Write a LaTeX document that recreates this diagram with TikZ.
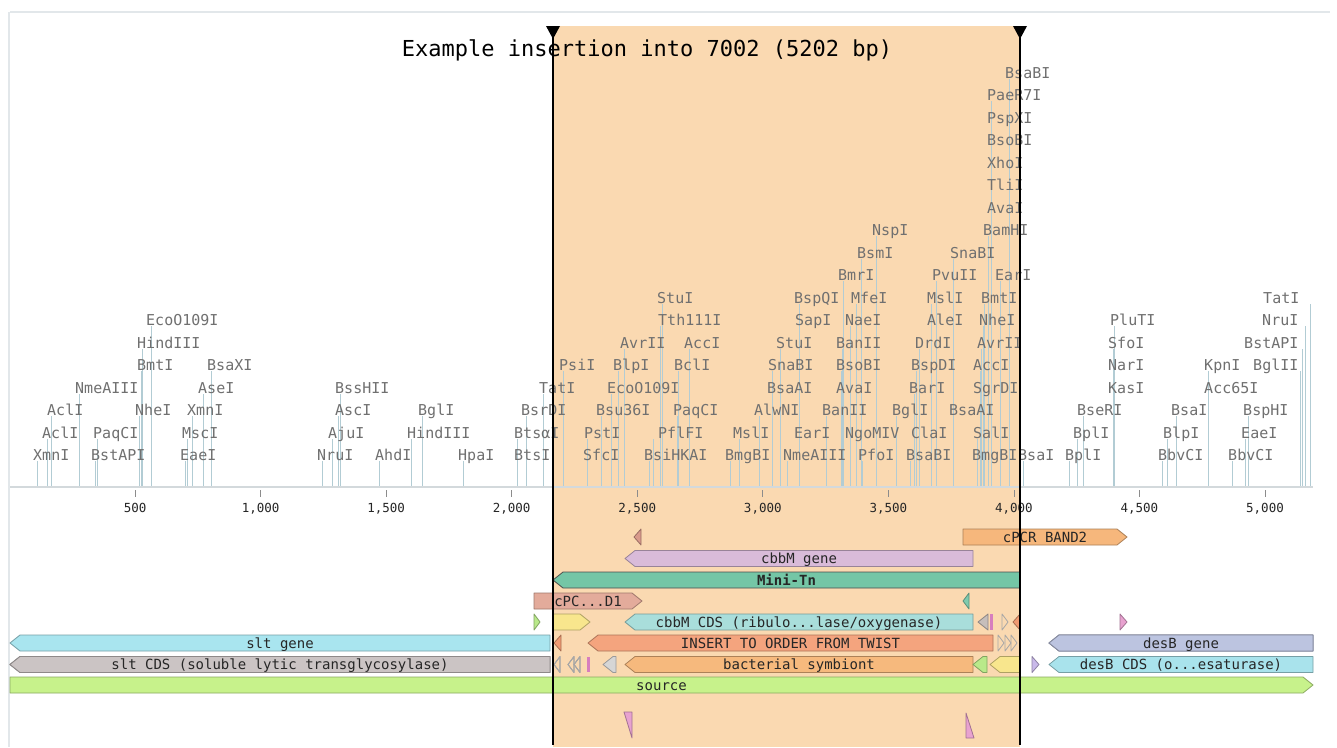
\documentclass[tikz,border=0pt]{standalone}
\usepackage{fontspec}
\setmonofont{DejaVu Sans Mono}

\definecolor{hilite}{HTML}{FAD9B1}
\definecolor{enzgray}{HTML}{707070}
\definecolor{cutline}{HTML}{B2CCD4}
\definecolor{axisgray}{HTML}{D3D9DC}
\definecolor{framegray}{HTML}{E2E7EA}
\definecolor{pcrorange}{HTML}{F6B77C}
\definecolor{lilac}{HTML}{D9BBD9}
\definecolor{minitn}{HTML}{74C6A6}
\definecolor{salmonlt}{HTML}{E3AB9B}
\definecolor{salmondk}{HTML}{D99A8C}
\definecolor{tealf}{HTML}{7FCBAE}
\definecolor{greenf}{HTML}{B9E98A}
\definecolor{yellowf}{HTML}{F8E68D}
\definecolor{cbbmcyan}{HTML}{A9DEDB}
\definecolor{graytri}{HTML}{C6BEBB}
\definecolor{pinkbar}{HTML}{D77EBE}
\definecolor{salmonor}{HTML}{F09A72}
\definecolor{pinkf}{HTML}{E8A2D0}
\definecolor{sltcyan}{HTML}{A9E5EF}
\definecolor{insertor}{HTML}{F4A47E}
\definecolor{desblilac}{HTML}{BCC4E0}
\definecolor{sltgray}{HTML}{CBC4C4}
\definecolor{lightgr}{HTML}{D6D6D6}
\definecolor{symbor}{HTML}{F6B97D}
\definecolor{lilacf}{HTML}{C9B9EA}
\definecolor{desbcyan}{HTML}{A9E3EC}
\definecolor{sourcegreen}{HTML}{C7F28B}

\tikzset{
  enz/.style={font=\fontsize{15}{17}\selectfont\ttfamily, text=enzgray, anchor=base west, inner sep=0pt},
  cut/.style={draw=cutline, line width=0.9pt},
  feat/.style={line width=0.8pt, line join=round},
  featlbl/.style={font=\fontsize{14}{16}\selectfont\ttfamily, text=black!85, anchor=base, inner sep=0pt},
  ticklbl/.style={font=\fontsize{12.5}{14}\selectfont\ttfamily, text=black!85, anchor=base, inner sep=0pt},
  titlelbl/.style={font=\fontsize{22}{24}\selectfont\ttfamily, text=black, anchor=base, inner sep=0pt},
  insline/.style={line width=2pt, draw=black},
}

% feature shapes: [style] x1, x2, y, colour
\newcommand{\arrowleft}[5][]{%
  \filldraw[feat, fill=#5, draw=#5!70!black, #1] (#2,#4) -- ({#2+min(10,#3-#2)},{#4-8})
    -- (#3,{#4-8}) -- (#3,{#4+8}) -- ({#2+min(10,#3-#2)},{#4+8}) -- cycle;}
\newcommand{\arrowright}[5][]{%
  \filldraw[feat, fill=#5, draw=#5!70!black, #1] (#2,{#4-8}) -- ({#3-min(10,#3-#2)},{#4-8})
    -- (#3,#4) -- ({#3-min(10,#3-#2)},{#4+8}) -- (#2,{#4+8}) -- cycle;}
% labelled features: [style] name, x1, x2, y, colour, label
\newcommand{\featleft}[7][]{%
  \arrowleft[#1]{#3}{#4}{#5}{#6}
  \node[featlbl] (#2) at ({(#3+#4)/2},{#5+5}) {#7};}
\newcommand{\featright}[7][]{%
  \arrowright[#1]{#3}{#4}{#5}{#6}
  \node[featlbl] (#2) at ({(#3+#4)/2},{#5+5}) {#7};}

\begin{document}
\begin{tikzpicture}[x=1pt, y=-1pt]
  \useasboundingbox (0,0) rectangle (1337,747);
  \fill[white] (0,0) rectangle (1337,747);
  % Insertion region
  \fill[hilite] (553,26) rectangle (1020,747);
  % Panel frame
  \draw[framegray, line width=1.2pt] (10,12) -- (1330,12);
  \draw[framegray, line width=2pt] (9,12) -- (9,747);

  % Cut sites
  \foreach \x/\r in {37/0, 47/1, 51/2, 79/3, 95/0, 97/1, 139/2, 141/4, 142/5, 151/6,
      185/0, 187/1, 192/2, 203/3, 211/4, 322/0, 332/1, 338/2, 340/3, 379/0, 411/1,
      422/2, 463/0, 517/1, 526/2, 543/3, 563/4, 587/1, 601/2, 611/3, 618/4, 624/5,
      649/0, 653/1, 660/6, 662/7, 677/2, 678/4, 689/5, 730/0, 739/1, 759/2, 772/4,
      780/5, 787/0, 799/7, 826/2, 841/4, 842/5, 843/8, 850/6, 856/7, 861/9, 862/0,
      876/10, 896/2, 910/0, 914/3, 916/4, 919/5, 931/7, 936/8, 953/9, 977/1, 980/4,
      981/5, 983/6, 984/7, 988/10, 991/16, 1000/8, 1009/17, 1023/0, 1069/0, 1077/1,
      1083/2, 1113/5, 1114/6, 1162/0, 1167/1, 1176/2, 1208/4, 1232/0, 1245/1,
      1248/2, 1300/4, 1302/5, 1305/6, 1310/7}
    \draw[cut] (\x,487) -- (\x,{461-22.5*\r});

  % Enzyme names
  \foreach \l/\r/\lab [count=\i] in {33/0/XmnI, 42/1/AclI, 47/2/AclI, 75/3/NmeAIII,
      93/1/PaqCI, 91/0/BstAPI, 135/2/NheI, 137/4/BmtI, 137/5/HindIII, 146/6/EcoO109I,
      180/0/EaeI, 182/1/MscI, 187/2/XmnI, 198/3/AseI, 207/4/BsaXI, 317/0/NruI,
      328/1/AjuI, 335/2/AscI, 335/3/BssHII, 375/0/AhdI, 407/1/HindIII, 418/2/BglI,
      458/0/HpaI, 514/0/BtsI, 514/1/BtsαI, 521/2/BsrDI, 539/3/TatI, 559/4/PsiI,
      583/0/SfcI, 584/1/PstI, 596/2/Bsu36I, 607/3/EcoO109I, 613/4/BlpI, 620/5/AvrII,
      644/0/BsiHKAI, 658/1/PflFI, 673/2/PaqCI, 674/4/BclI, 684/5/AccI, 658/6/Tth111I,
      657/7/StuI, 725/0/BmgBI, 733/1/MslI, 754/2/AlwNI, 767/3/BsaAI, 768/4/SnaBI,
      776/5/StuI, 783/0/NmeAIII, 794/1/EarI, 795/6/SapI, 794/7/BspQI, 822/2/BanII,
      836/3/AvaI, 836/4/BsoBI, 836/5/BanII, 845/6/NaeI, 845/1/NgoMIV, 851/7/MfeI,
      838/8/BmrI, 857/9/BsmI, 872/10/NspI, 858/0/PfoI, 892/2/BglI, 906/0/BsaBI,
      911/1/ClaI, 909/3/BarI, 911/4/BspDI, 915/5/DrdI, 927/6/AleI, 927/7/MslI,
      932/8/PvuII, 950/9/SnaBI, 949/2/BsaAI, 972/0/BmgBI, 973/1/SalI, 973/3/SgrDI,
      973/4/AccI, 977/5/AvrII, 979/6/NheI, 981/7/BmtI, 995/8/EarI, 983/10/BamHI,
      987/11/AvaI, 987/12/TliI, 987/13/XhoI, 987/14/BsoBI, 987/15/PspXI,
      987/16/PaeR7I, 1005/17/BsaBI, 1018/0/BsaI, 1065/0/BplI, 1073/1/BplI,
      1077/2/BseRI, 1108/3/KasI, 1108/4/NarI, 1108/5/SfoI, 1110/6/PluTI,
      1158/0/BbvCI, 1163/1/BlpI, 1171/2/BsaI, 1204/3/Acc65I, 1204/4/KpnI,
      1228/0/BbvCI, 1241/1/EaeI, 1243/2/BspHI, 1253/4/BglII, 1244/5/BstAPI,
      1262/6/NruI, 1263/7/TatI}
    \node[enz] (enz\i) at (\l,{460.5-22.5*\r}) {\lab};

  % Ruler
  \draw[axisgray, line width=2pt] (10,487) -- (1313,487);
  \foreach \bp/\lab [count=\i] in {500/500, 1000/{1,000}, 1500/{1,500}, 2000/{2,000},
      2500/{2,500}, 3000/{3,000}, 3500/{3,500}, 4000/{4,000}, 4500/{4,500}, 5000/{5,000}} {
    \draw[black!45, line width=0.8pt] ({9.5+0.2511*\bp},490) -- ({9.5+0.2511*\bp},497);
    \node[ticklbl] (tick\i) at ({9.5+0.2511*\bp},512) {\lab};
  }

  % Features, row by row
  \arrowleft{634}{641}{537}{salmondk}
  \featright{pcrband}{963}{1127}{537}{pcrorange}{cPCR BAND2}
  \featleft{cbbmgene}{625}{973}{558.5}{lilac}{cbbM gene}
  \featleft[draw=black!70]{minitn}{553}{1020}{580}{minitn}{\textbf{Mini-Tn}}
  \featright{cpcd}{534}{642}{601}{salmonlt}{cPC...D1}
  \arrowleft{963}{969}{601}{tealf}
  \arrowright{534}{540}{622}{greenf}
  \arrowright{553}{590}{622}{yellowf}
  \featleft{cbbmcds}{625}{973}{622}{cbbmcyan}{cbbM CDS (ribulo...lase/oxygenase)}
  \arrowleft{978}{988}{622}{graytri}
  \fill[pinkbar] (990,614) rectangle (993,630);
  \arrowright[fill=none, draw=black!35]{1002}{1008}{622}{graytri}
  \arrowleft{1013}{1020}{622}{salmonor}
  \arrowright{1120}{1127}{622}{pinkf}
  \featleft{sltgene}{10}{550}{643}{sltcyan}{slt gene}
  \arrowleft{554}{561}{643}{salmonor}
  \featleft{insert}{588}{993}{643}{insertor}{INSERT TO ORDER FROM TWIST}
  \foreach \x in {998,1005,1011}
    \arrowright[fill=none, draw=black!35]{\x}{\x+6}{643}{graytri}
  \featleft{desbgene}{1049}{1313}{643}{desblilac}{desB gene}
  \featleft{sltcds}{10}{550}{664.5}{sltgray}{slt CDS (soluble lytic transglycosylase)}
  \foreach \x in {554,568,574}
    \arrowleft[fill=none, draw=black!35]{\x}{\x+6}{664.5}{graytri}
  \fill[pinkbar] (587,657) rectangle (590,672);
  \arrowleft[draw=black!40]{603}{616}{664.5}{lightgr}
  \featleft{symbiont}{625}{973}{664.5}{symbor}{bacterial symbiont}
  \arrowleft{973}{987}{664.5}{greenf}
  \arrowleft{990}{1020}{664.5}{yellowf}
  \arrowright{1032}{1039}{664.5}{lilacf}
  \featleft{desbcds}{1049}{1313}{664.5}{desbcyan}{desB CDS (o...esaturase)}
  \featright{source}{10}{1313}{685}{sourcegreen}{source}
  % Primer marks
  \filldraw[feat, fill=pinkf, draw=pinkf!70!black] (624,712) -- (632,712) -- (632,738) -- cycle;
  \filldraw[feat, fill=pinkf, draw=pinkf!70!black] (966,713) -- (974,738) -- (966,738) -- cycle;

  % Insertion boundaries
  \draw[insline] (553,26) -- (553,745);
  \draw[insline] (1020,26) -- (1020,745);
  \fill (546,26) -- (560,26) -- (553,39) -- cycle;
  \fill (1013,26) -- (1027,26) -- (1020,39) -- cycle;

  % Title
  \node[titlelbl] (title) at (647,56) {Example insertion into 7002 (5202 bp)};
\end{tikzpicture}
\end{document}
